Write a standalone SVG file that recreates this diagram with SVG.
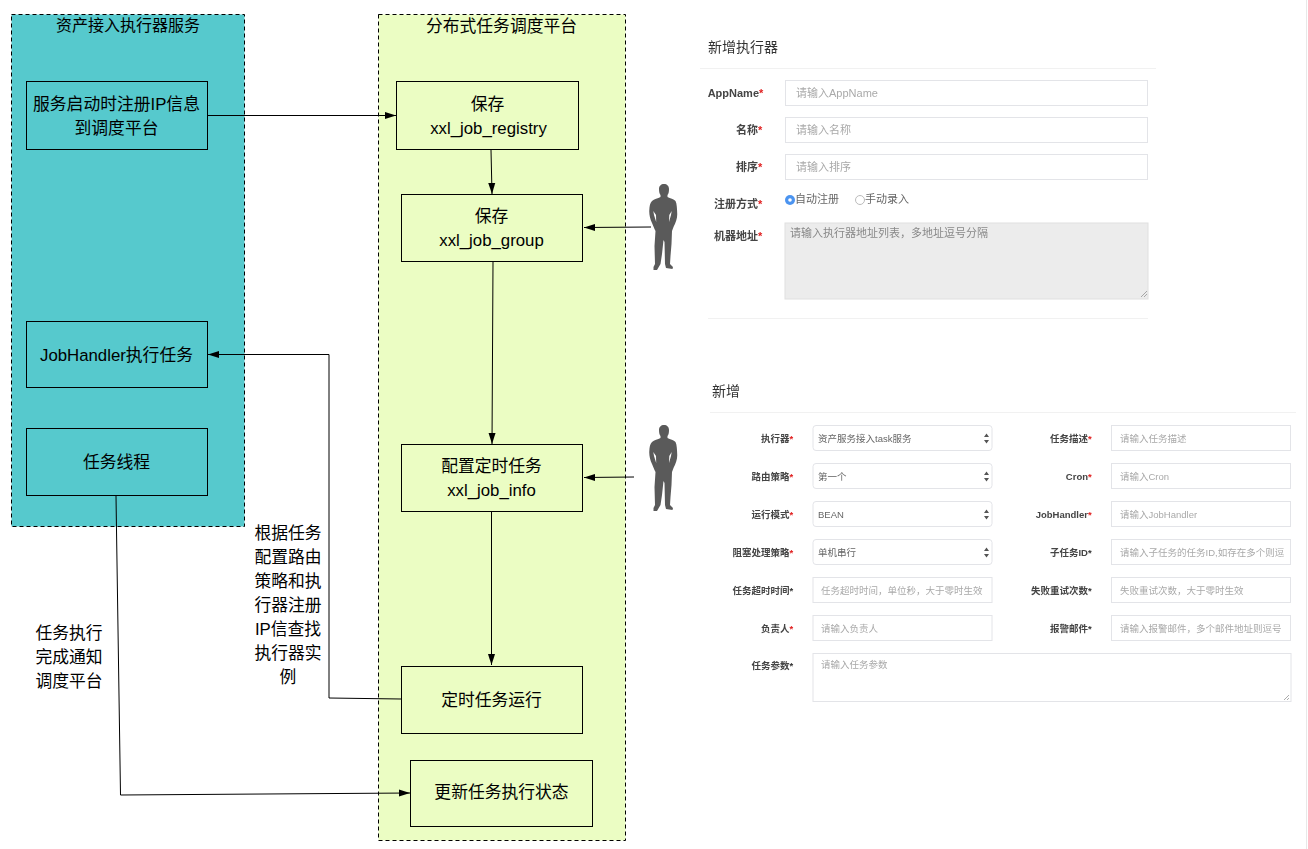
<svg xmlns="http://www.w3.org/2000/svg" width="1308" height="849" viewBox="0 0 1308 849">
<style>
text{font-family:"Liberation Sans","Noto Sans CJK SC",sans-serif;fill:#000}
.c{text-anchor:middle;font-size:16.8px}
.box{fill:none;stroke:#000;stroke-width:1}
.group{stroke:#000;stroke-width:1;stroke-dasharray:4 3}
.conn{fill:none;stroke:#000;stroke-width:1;marker-end:url(#arr)}
.input{fill:#fff;stroke:#e3e4e8;stroke-width:1}
.sel{fill:#fff;stroke:#e3e4e8;stroke-width:1}
.f1 text{font-size:11px}
.f2 text{font-size:9.5px}
.f1 .hd,.f2 .hd{font-size:14px;fill:#333;font-weight:normal}
.lab{font-weight:bold;fill:#444;text-anchor:end}
.ph{fill:#a9a9a9}
.val{fill:#666}
.star{fill:#e02020;font-weight:bold}
.dk{fill:#333;font-weight:bold}
.rule{stroke:#f1f1f1;stroke-width:1}
.updown{fill:#555}
</style>
<defs>
<marker id="arr" markerWidth="12" markerHeight="8" refX="11" refY="4" orient="auto" markerUnits="userSpaceOnUse"><path d="M0,0.5 L11,4 L0,7.5 Z" fill="#000"/></marker>
<symbol id="man" viewBox="0 0 30 88" width="30" height="88" overflow="visible">
<path fill="#5a5a5a" fill-rule="evenodd" d="M15,0 C18,0 20,2 20,5 C20,8 19.500,10 18.500,11 L18.500,13 C21,14.500 25,15 26.500,17 C28,20 28,25 28.200,29 C28.500,34 27,38 24.500,43 L23,47 L22.500,60 L21.500,72 L21,80 L24,83 L23.500,85 L17,84 L16,80 L15.500,58 L14.500,56 L13,70 L11.500,80 L8,86 L4.500,86 L4.500,83 L6,80 L5.500,62 L6.500,47 L5.500,45 L3,39 C1,35 0,30 0.300,26 C0.500,22 1,19 3,17 C5,15 9,14.500 11.500,13 L11.500,11 C10.500,10 10,8 10,5 C10,2 12,0 15,0 Z M4.300,27 L5,31 L7.200,38 L7,31 Z M22.700,27 L22,31 L20,38 L20.300,31 Z"/>
</symbol>
<filter id="soft" x="-2%" y="-2%" width="104%" height="104%"><feGaussianBlur stdDeviation="0.35"/></filter>
<clipPath id="clipR"><rect x="1112" y="610" width="170" height="40"/></clipPath>
</defs>
<rect width="1308" height="849" fill="#fff"/>
<line x1="1306.500" y1="0" x2="1306.500" y2="849" stroke="#e8e8e8"/>
<g id="group-executor"><rect class="group" x="11.5" y="14.5" width="233" height="512" fill="#56c9cd"/><text class="c" x="128" y="31" style="font-size:16px">资产接入执行器服务</text></g>
<g id="group-platform"><rect class="group" x="378.5" y="14.5" width="247" height="826" fill="#ebfdc3"/><text class="c" x="501.500" y="32">分布式任务调度平台</text></g>
<g id="n-register"><rect class="box" x="26.500" y="81.500" width="181" height="68"/><text class="c" x="116.500" y="110">服务启动时注册IP信息</text><text class="c" x="116.500" y="134">到调度平台</text></g>
<g id="n-handler"><rect class="box" x="26.500" y="321.500" width="181" height="66"/><text class="c" x="116.500" y="361">JobHandler执行任务</text></g>
<g id="n-thread"><rect class="box" x="26.500" y="428.500" width="181" height="67"/><text class="c" x="116.500" y="468">任务线程</text></g>
<g id="n-registry"><rect class="box" x="396.500" y="81.500" width="182" height="68"/><text class="c" x="487.500" y="110">保存</text><text class="c" x="488.500" y="134">xxl_job_registry</text></g>
<g id="n-jobgroup"><rect class="box" x="401.500" y="194.500" width="181" height="67"/><text class="c" x="491.500" y="222">保存</text><text class="c" x="491.500" y="246">xxl_job_group</text></g>
<g id="n-info"><rect class="box" x="401.500" y="444.500" width="181" height="67"/><text class="c" x="491.500" y="472">配置定时任务</text><text class="c" x="491.500" y="496">xxl_job_info</text></g>
<g id="n-run"><rect class="box" x="401.500" y="666.500" width="181" height="67"/><text class="c" x="491.500" y="706">定时任务运行</text></g>
<g id="n-update"><rect class="box" x="410.500" y="760.500" width="182" height="66"/><text class="c" x="501.500" y="798">更新任务执行状态</text></g>
<g id="connectors">
<path class="conn" d="M208,115.500 H396"/>
<path class="conn" d="M491,150 L492,194"/>
<path class="conn" d="M493,262 L492,444"/>
<path class="conn" d="M491.500,512 V665"/>
<path class="conn" d="M401,699 L329,698 V354.500 H208"/>
<path class="conn" d="M116,496 L120.500,795 L410,793"/>
<path class="conn" d="M651,227 L584,227.500"/>
<path class="conn" d="M634,477 L584,477.500"/>
</g>
<g id="label-route"><text class="c" x="288" y="539">根据任务</text><text class="c" x="288" y="563">配置路由</text><text class="c" x="288" y="587">策略和执</text><text class="c" x="288" y="611">行器注册</text><text class="c" x="288" y="635">IP信查找</text><text class="c" x="288" y="659">执行器实</text><text class="c" x="288" y="683">例</text></g>
<g id="label-done"><text class="c" x="69" y="639">任务执行</text><text class="c" x="69" y="663">完成通知</text><text class="c" x="69" y="687">调度平台</text></g>
<use id="person-1" href="#man" x="649" y="184"/>
<use id="person-2" href="#man" x="649" y="425"/>
<g id="form-executor" class="f1" filter="url(#soft)">
<text class="hd" x="708" y="52">新增执行器</text>
<line class="rule" x1="700" y1="68.500" x2="1156" y2="68.500"/>
<text class="lab" x="759" y="97">AppName</text><text class="star" x="759" y="97">*</text>
<rect class="input" x="785.500" y="80.500" width="362" height="25"/><text class="ph" x="796" y="97">请输入AppName</text>
<text class="lab" x="758" y="134">名称</text><text class="star" x="758" y="134">*</text>
<rect class="input" x="785.500" y="117.500" width="362" height="25"/><text class="ph" x="796" y="134">请输入名称</text>
<text class="lab" x="758" y="171">排序</text><text class="star" x="758" y="171">*</text>
<rect class="input" x="785.500" y="154.500" width="362" height="25"/><text class="ph" x="796" y="171">请输入排序</text>
<text class="lab" x="758" y="208">注册方式</text><text class="star" x="758" y="208">*</text>
<circle cx="790" cy="200" r="5" fill="#4c94f0"/><circle cx="790" cy="200" r="1.800" fill="#fff"/><text class="val" x="795" y="203">自动注册</text>
<circle cx="860" cy="200" r="4.500" fill="#fff" stroke="#bbb"/><text class="val" x="865" y="203">手动录入</text>
<text class="lab" x="758" y="240">机器地址</text><text class="star" x="758" y="240">*</text>
<rect x="785" y="223" width="363" height="76" fill="#ececec" stroke="#e0e0e0"/><text class="val" x="790" y="237" style="fill:#888">请输入执行器地址列表，多地址逗号分隔</text>
<path d="M1141,297 L1147,291 M1144,297 L1147,294" stroke="#888" stroke-width="0.700"/>
<line class="rule" x1="708" y1="318.500" x2="1148" y2="318.500"/>
</g>
<g id="form-job" class="f2" filter="url(#soft)">
<text class="hd" x="712" y="396">新增</text>
<line class="rule" x1="710" y1="412.500" x2="1296" y2="412.500"/>
<text class="lab" x="789.500" y="442">执行器</text><text class="star" x="789.500" y="442">*</text>
<rect class="sel" x="813" y="425.500" width="179" height="25" rx="3"/><text class="val" x="818" y="442">资产服务接入task服务</text><path class="updown" d="M984,437 L986.500,433.500 L989,437 Z M984,440 L986.500,443.500 L989,440 Z"/>
<text class="lab" x="789.500" y="480">路由策略</text><text class="star" x="789.500" y="480">*</text>
<rect class="sel" x="813" y="463.500" width="179" height="25" rx="3"/><text class="val" x="818" y="480">第一个</text><path class="updown" d="M984,475 L986.500,471.500 L989,475 Z M984,478 L986.500,481.500 L989,478 Z"/>
<text class="lab" x="789.500" y="518">运行模式</text><text class="star" x="789.500" y="518">*</text>
<rect class="sel" x="813" y="501.500" width="179" height="25" rx="3"/><text class="val" x="818" y="518">BEAN</text><path class="updown" d="M984,513 L986.500,509.500 L989,513 Z M984,516 L986.500,519.500 L989,516 Z"/>
<text class="lab" x="789.500" y="556">阻塞处理策略</text><text class="star" x="789.500" y="556">*</text>
<rect class="sel" x="813" y="539.500" width="179" height="25" rx="3"/><text class="val" x="818" y="556">单机串行</text><path class="updown" d="M984,551 L986.500,547.500 L989,551 Z M984,554 L986.500,557.500 L989,554 Z"/>
<text class="lab" x="789.500" y="594">任务超时时间</text><text class="dk" x="789.500" y="594">*</text>
<rect class="input" x="813" y="577.500" width="179" height="25"/><text class="ph" x="821" y="594">任务超时时间，单位秒，大于零时生效</text>
<text class="lab" x="789.500" y="632">负责人</text><text class="star" x="789.500" y="632">*</text>
<rect class="input" x="813" y="615.500" width="179" height="25"/><text class="ph" x="821" y="632">请输入负责人</text>
<text class="lab" x="789.500" y="669">任务参数</text><text class="dk" x="789.500" y="669">*</text>
<rect class="input" x="813" y="653.500" width="478" height="48"/><text class="ph" x="821" y="668">请输入任务参数</text>
<path d="M1284,700 L1289,695 M1287,700 L1289,698" stroke="#888" stroke-width="0.700"/>
<text class="lab" x="1088" y="442">任务描述</text><text class="star" x="1088" y="442">*</text>
<rect class="input" x="1111.500" y="425.500" width="179" height="25"/><text class="ph" x="1120" y="442">请输入任务描述</text>
<text class="lab" x="1088" y="480">Cron</text><text class="star" x="1088" y="480">*</text>
<rect class="input" x="1111.500" y="463.500" width="179" height="25"/><text class="ph" x="1120" y="480">请输入Cron</text>
<text class="lab" x="1088" y="518">JobHandler</text><text class="star" x="1088" y="518">*</text>
<rect class="input" x="1111.500" y="501.500" width="179" height="25"/><text class="ph" x="1120" y="518">请输入JobHandler</text>
<text class="lab" x="1088" y="556">子任务ID</text><text class="dk" x="1088" y="556">*</text>
<rect class="input" x="1111.500" y="539.500" width="179" height="25"/><text class="ph" x="1120" y="556">请输入子任务的任务ID,如存在多个则逗</text>
<text class="lab" x="1088" y="594">失败重试次数</text><text class="dk" x="1088" y="594">*</text>
<rect class="input" x="1111.500" y="577.500" width="179" height="25"/><text class="ph" x="1120" y="594">失败重试次数，大于零时生效</text>
<text class="lab" x="1088" y="632">报警邮件</text><text class="dk" x="1088" y="632">*</text>
<rect class="input" x="1111.500" y="615.500" width="179" height="25"/><text class="ph" x="1120" y="632" clip-path="url(#clipR)">请输入报警邮件，多个邮件地址则逗号分</text>
</g>
</svg>
